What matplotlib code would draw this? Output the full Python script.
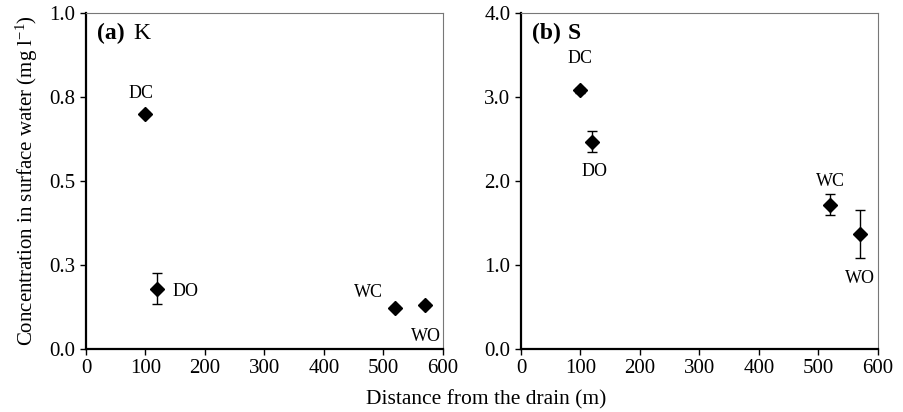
import numpy as np
import matplotlib as mpl
from matplotlib import pyplot as plt

mpl.rcParams.update({
    'font.family': 'serif',
    'font.serif': ['Liberation Serif', 'DejaVu Serif'],
    'mathtext.fontset': 'custom',
    'mathtext.rm': 'Liberation Serif',
    'mathtext.it': 'Liberation Serif:italic',
    'font.size': 14,
})

# data
sites = ['DC', 'DO', 'WC', 'WO']
distance = [100, 120, 520, 570]

k_mean = [0.70, 0.18, 0.123, 0.131]
k_err = [0.005, 0.045, 0.005, 0.005]

s_mean = [3.08, 2.47, 1.72, 1.365]
s_err = [0.03, 0.12, 0.13, 0.285]

# label positions (x, y) per site
k_lab = [(93, 0.76), (168, 0.17), (474, 0.167), (571, 0.038)]
s_lab = [(100, 3.46), (123, 2.115), (521, 1.99), (569, 0.84)]

fig = plt.figure(figsize=(9.04, 4.12), dpi=100)
axa = fig.add_axes([0.0951, 0.1529, 0.3949, 0.8155])
axb = fig.add_axes([0.5763, 0.1529, 0.3949, 0.8155])


def style(ax):
    for side in ['top', 'right']:
        ax.spines[side].set_color('#777777')
        ax.spines[side].set_linewidth(0.8)
    for side in ['left', 'bottom']:
        ax.spines[side].set_linewidth(1.6)
    ax.tick_params(direction='out', length=4, width=1, labelsize=15)
    ax.set_xlim(0, 600)
    ax.set_xticks(np.arange(0, 601, 100))


panels = [
    (axa, k_mean, k_err, k_lab, '(a)', 'K', 'normal', 1.0,
     [0, 0.25, 0.5, 0.75, 1.0], ['0.0', '0.3', '0.5', '0.8', '1.0']),
    (axb, s_mean, s_err, s_lab, '(b)', 'S', 'bold', 4.0,
     [0, 1, 2, 3, 4], ['0.0', '1.0', '2.0', '3.0', '4.0']),
]

for ax, mean, err, labpos, tag, elem, ew, ymax, yt, ytl in panels:
    style(ax)
    ax.errorbar(distance, mean, yerr=err, fmt='D', color='black', ms=7.5,
                ecolor='black', elinewidth=1, capsize=3.5, capthick=1)
    for name, (lx, ly) in zip(sites, labpos):
        ax.text(lx, ly, name, ha='center', va='center', fontsize=13)
    ax.set_ylim(0, ymax)
    ax.set_yticks(yt)
    ax.set_yticklabels(ytl)
    ax.text(0.03, 0.94, tag, transform=ax.transAxes, fontsize=17,
            fontweight='bold', va='center', ha='left')
    ax.text(0.132, 0.94, elem, transform=ax.transAxes, fontsize=17,
            fontweight=ew, va='center', ha='left')

axa.set_ylabel('Concentration in surface water (mg l$^{-1}$)', fontsize=15,
               labelpad=7)
fig.text(0.538, 0.03, 'Distance from the drain (m)', ha='center',
         va='center', fontsize=15.5)

fig.savefig('out.png', dpi=100)
